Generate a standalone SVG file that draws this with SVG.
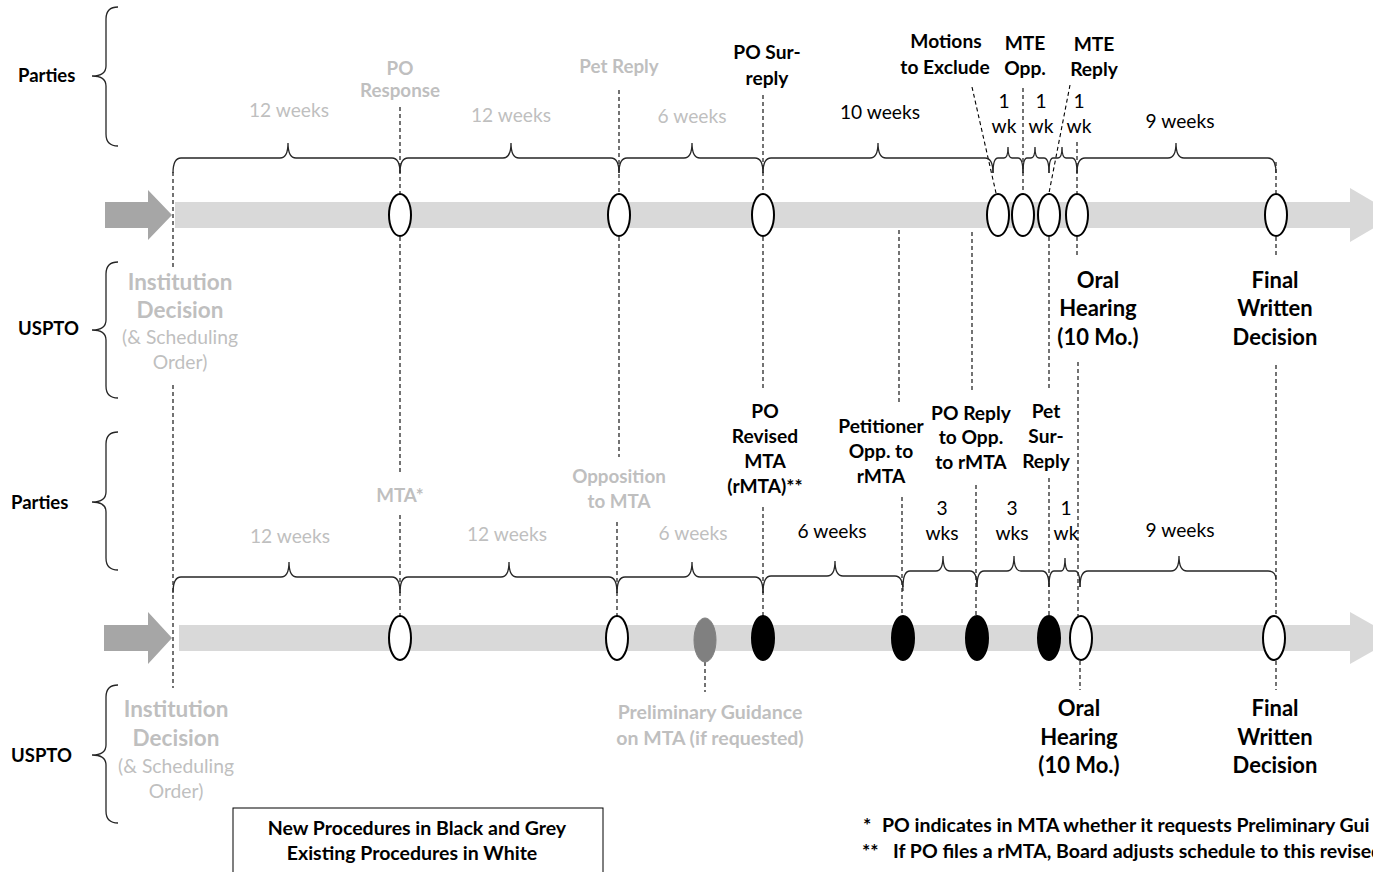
<svg xmlns="http://www.w3.org/2000/svg" width="1373" height="872" viewBox="0 0 1373 872">
<style>
text{font-family:Lato,"Liberation Sans",sans-serif;text-anchor:middle}
.lb{font-weight:bold;font-size:19.2px;fill:#000}
.gb{font-weight:bold;font-size:18.8px;fill:#bfbfbf}
.gr{font-size:19.2px;fill:#bfbfbf}
.bk{font-size:19.2px;fill:#000}
.big{font-weight:bold;font-size:22px;fill:#000}
.gbig{font-weight:bold;font-size:22.5px;fill:#bfbfbf}
.gsub{font-size:19.3px;fill:#bfbfbf}
.side{font-weight:bold;font-size:18.5px;fill:#000;text-anchor:start}
.fn{font-weight:bold;font-size:19.5px;fill:#000;text-anchor:start}
.lg{font-weight:bold;font-size:19.5px;fill:#000}
.pg{font-weight:bold;font-size:19.5px;fill:#bfbfbf}
.brace{fill:none;stroke:#262626;stroke-width:1.3}
.dash{stroke:#000;stroke-width:1.1;stroke-dasharray:4 3;fill:none}
.ow{fill:#fff;stroke:#000;stroke-width:2}
.ob{fill:#000;stroke:#000;stroke-width:2}
.og{fill:#808080;stroke:#808080;stroke-width:1}
.bar{fill:#d9d9d9}
.arr{fill:#a6a6a6}
</style>

<g id="timeline-bars">
  <polygon class="arr" points="105,202 148,202 148,190 172,215 148,240 148,228 105,228"/>
  <rect class="bar" x="175" y="202" width="1176" height="26"/>
  <polygon class="bar" points="1350,188 1396,215 1350,242"/>
  <polygon class="arr" points="104,625 148,625 148,612 172,638 148,664 148,651 104,651"/>
  <rect class="bar" x="179" y="625" width="1172" height="26"/>
  <polygon class="bar" points="1350,612 1396,638 1350,664"/>
</g>

<g id="side-braces">
  <path class="brace" d="M118,7 Q106,7 106,19 L106,66 Q106,76 92,76 Q106,76 106,86 L106,134 Q106,146 118,146"/>
  <path class="brace" d="M118,262 Q106,262 106,274 L106,320 Q106,330 92,330 Q106,330 106,340 L106,386 Q106,398 118,398"/>
  <path class="brace" d="M118,432 Q106,432 106,444 L106,492 Q106,502 92,502 Q106,502 106,512 L106,558 Q106,570 118,570"/>
  <path class="brace" d="M118,685 Q106,685 106,697 L106,745 Q106,755 92,755 Q106,755 106,765 L106,811 Q106,823 118,823"/>
  <text class="side" x="18" y="82">Parties</text>
  <text class="side" x="18" y="335">USPTO</text>
  <text class="side" x="11" y="509">Parties</text>
  <text class="side" x="11" y="762">USPTO</text>
</g>

<g id="connectors">
  <line class="dash" x1="173" y1="172" x2="173" y2="268"/>
  <line class="dash" x1="173" y1="385" x2="173" y2="688"/>
  <line class="dash" x1="400" y1="107" x2="400" y2="193"/>
  <line class="dash" x1="400" y1="237" x2="400" y2="475"/>
  <line class="dash" x1="400" y1="515" x2="400" y2="616"/>
  <line class="dash" x1="619" y1="90" x2="619" y2="193"/>
  <line class="dash" x1="619" y1="237" x2="619" y2="457"/>
  <line class="dash" x1="617" y1="522" x2="617" y2="616"/>
  <line class="dash" x1="763" y1="95" x2="763" y2="193"/>
  <line class="dash" x1="763" y1="237" x2="763" y2="390"/>
  <line class="dash" x1="763" y1="507" x2="763" y2="616"/>
  <line class="dash" x1="972" y1="87" x2="996" y2="193"/>
  <line class="dash" x1="1023" y1="88" x2="1023" y2="193"/>
  <line class="dash" x1="1070" y1="85" x2="1049" y2="193"/>
  <line class="dash" x1="1077" y1="142" x2="1077" y2="193"/>
  <line class="dash" x1="1276" y1="162" x2="1276" y2="193"/>
  <line class="dash" x1="899" y1="230" x2="899" y2="405"/>
  <line class="dash" x1="902" y1="497" x2="902" y2="616"/>
  <line class="dash" x1="972" y1="232" x2="972" y2="390"/>
  <line class="dash" x1="976" y1="485" x2="976" y2="616"/>
  <line class="dash" x1="1049" y1="237" x2="1049" y2="388"/>
  <line class="dash" x1="1049" y1="478" x2="1049" y2="616"/>
  <line class="dash" x1="1077" y1="237" x2="1077" y2="258"/>
  <line class="dash" x1="1078" y1="362" x2="1078" y2="616"/>
  <line class="dash" x1="1276" y1="237" x2="1276" y2="258"/>
  <line class="dash" x1="1276" y1="365" x2="1276" y2="616"/>
  <line class="dash" x1="705" y1="662" x2="705" y2="692"/>
  <line class="dash" x1="1080" y1="661" x2="1080" y2="690"/>
  <line class="dash" x1="1276" y1="661" x2="1276" y2="690"/>

  <path class="brace" d="M173,173 Q173,158 181,158 L280,158 Q288,158 288,143 Q288,158 296,158 L392,158 Q400,158 400,173"/>
  <path class="brace" d="M400,173 Q400,158 408,158 L503,158 Q511,158 511,143 Q511,158 519,158 L611,158 Q619,158 619,173"/>
  <path class="brace" d="M619,173 Q619,158 627,158 L684,158 Q692,158 692,143 Q692,158 700,158 L755,158 Q763,158 763,173"/>
  <path class="brace" d="M763,173 Q763,158 771,158 L870,158 Q878,158 878,143 Q878,158 886,158 L985,158 Q993,158 993,173"/>
  <path class="brace" d="M993,173 Q993,158 998,158 L1004,158 Q1008,158 1008,147 Q1008,158 1012,158 L1018,158 Q1023,158 1023,173"/>
  <path class="brace" d="M1023,173 Q1023,158 1027,158 L1031,158 Q1035,158 1035,147 Q1035,158 1039,158 L1044,158 Q1049,158 1049,173"/>
  <path class="brace" d="M1049,173 Q1049,158 1053,158 L1058,158 Q1062,158 1062,147 Q1062,158 1066,158 L1072,158 Q1077,158 1077,173"/>
  <path class="brace" d="M1077,173 Q1077,158 1085,158 L1168,158 Q1176,158 1176,143 Q1176,158 1184,158 L1268,158 Q1276,158 1276,173"/>

  <path class="brace" d="M173,593 Q173,577 181,577 L281,577 Q289,577 289,562 Q289,577 297,577 L392,577 Q400,577 400,593"/>
  <path class="brace" d="M400,593 Q400,577 408,577 L501,577 Q509,577 509,562 Q509,577 517,577 L609,577 Q617,577 617,593"/>
  <path class="brace" d="M617,593 Q617,577 625,577 L684,577 Q692,577 692,562 Q692,577 700,577 L755,577 Q763,577 763,593"/>
  <path class="brace" d="M763,593 Q763,576 771,576 L827,576 Q835,576 835,561 Q835,576 843,576 L895,576 Q903,576 903,591"/>
  <path class="brace" d="M903,587 Q903,571 910,571 L936,571 Q943,571 943,556 Q943,571 950,571 L970,571 Q977,571 977,587"/>
  <path class="brace" d="M977,587 Q977,571 984,571 L1007,571 Q1014,571 1014,556 Q1014,571 1021,571 L1042,571 Q1049,571 1049,587"/>
  <path class="brace" d="M1049,587 Q1049,571 1054,571 L1061,571 Q1065,571 1065,558 Q1065,571 1069,571 L1075,571 Q1080,571 1080,587"/>
  <path class="brace" d="M1080,587 Q1080,571 1088,571 L1171,571 Q1179,571 1179,556 Q1179,571 1187,571 L1268,571 Q1276,571 1276,580"/>
</g>

<g id="top-duration-labels">
  <text class="gr" x="289" y="117">12 weeks</text>
  <text class="gr" x="511" y="122">12 weeks</text>
  <text class="gr" x="692" y="123">6 weeks</text>
  <text class="bk" x="880" y="119">10 weeks</text>
  <text class="bk" x="1004" y="108">1</text><text class="bk" x="1004" y="133">wk</text>
  <text class="bk" x="1041" y="108">1</text><text class="bk" x="1041" y="133">wk</text>
  <text class="bk" x="1079" y="108">1</text><text class="bk" x="1079" y="133">wk</text>
  <text class="bk" x="1180" y="128">9 weeks</text>
</g>

<g id="top-po-response"><ellipse class="ow" cx="400" cy="215" rx="11" ry="21"/><text class="gb" x="400" y="75">PO</text><text class="gb" x="400" y="97">Response</text></g>
<g id="top-pet-reply"><ellipse class="ow" cx="619" cy="215" rx="11" ry="21"/><text class="gb" x="619" y="73">Pet Reply</text></g>
<g id="top-po-surreply"><ellipse class="ow" cx="763" cy="215" rx="11" ry="21"/><text class="lb" x="767" y="59">PO Sur-</text><text class="lb" x="767" y="85">reply</text></g>
<g id="top-mte"><ellipse class="ow" cx="998" cy="215" rx="11" ry="21"/><text class="lb" x="946" y="48">Motions</text><text class="lb" x="945" y="74">to Exclude</text></g>
<g id="top-mte-opp"><ellipse class="ow" cx="1023" cy="215" rx="11" ry="21"/><text class="lb" x="1025" y="50">MTE</text><text class="lb" x="1025" y="75">Opp.</text></g>
<g id="top-mte-reply"><ellipse class="ow" cx="1049" cy="215" rx="11" ry="21"/><text class="lb" x="1094" y="51">MTE</text><text class="lb" x="1094" y="76">Reply</text></g>
<g id="top-oral-hearing"><ellipse class="ow" cx="1077" cy="215" rx="11" ry="21"/><text class="big" x="1098" y="288">Oral</text><text class="big" x="1098" y="316">Hearing</text><text class="big" x="1098" y="345">(10 Mo.)</text></g>
<g id="top-fwd"><ellipse class="ow" cx="1276" cy="215" rx="11" ry="21"/><text class="big" x="1275" y="288">Final</text><text class="big" x="1275" y="316">Written</text><text class="big" x="1275" y="345">Decision</text></g>
<g id="top-institution"><text class="gbig" x="180" y="290">Institution</text><text class="gbig" x="180" y="318">Decision</text><text class="gsub" x="180" y="344">(&amp; Scheduling</text><text class="gsub" x="180" y="369">Order)</text></g>

<g id="bottom-duration-labels">
  <text class="gr" x="290" y="543">12 weeks</text>
  <text class="gr" x="507" y="541">12 weeks</text>
  <text class="gr" x="693" y="540">6 weeks</text>
  <text class="bk" x="832" y="538">6 weeks</text>
  <text class="bk" x="942" y="515">3</text><text class="bk" x="942" y="540">wks</text>
  <text class="bk" x="1012" y="515">3</text><text class="bk" x="1012" y="540">wks</text>
  <text class="bk" x="1066" y="515">1</text><text class="bk" x="1066" y="540">wk</text>
  <text class="bk" x="1180" y="537">9 weeks</text>
</g>

<g id="bottom-mta"><ellipse class="ow" cx="400" cy="638" rx="11" ry="22"/><text class="gb" x="400" y="502">MTA*</text></g>
<g id="bottom-opposition"><ellipse class="ow" cx="617" cy="638" rx="11" ry="22"/><text class="gb" x="619" y="483">Opposition</text><text class="gb" x="619" y="508">to MTA</text></g>
<g id="bottom-prelim-guidance"><ellipse class="og" cx="705" cy="640" rx="11" ry="22"/><text class="pg" x="710" y="719">Preliminary Guidance</text><text class="pg" x="710" y="745">on MTA (if requested)</text></g>
<g id="bottom-rmta"><ellipse class="ob" cx="763" cy="638" rx="11" ry="22"/><text class="lb" x="765" y="418">PO</text><text class="lb" x="765" y="443">Revised</text><text class="lb" x="765" y="468">MTA</text><text class="lb" x="765" y="493">(rMTA)**</text></g>
<g id="bottom-pet-opp"><ellipse class="ob" cx="903" cy="638" rx="11" ry="22"/><text class="lb" x="881" y="433">Petitioner</text><text class="lb" x="881" y="458">Opp. to</text><text class="lb" x="881" y="483">rMTA</text></g>
<g id="bottom-po-reply"><ellipse class="ob" cx="977" cy="638" rx="11" ry="22"/><text class="lb" x="971" y="420">PO Reply</text><text class="lb" x="971" y="444">to Opp.</text><text class="lb" x="971" y="469">to rMTA</text></g>
<g id="bottom-pet-surreply"><ellipse class="ob" cx="1049" cy="638" rx="11" ry="22"/><text class="lb" x="1046" y="418">Pet</text><text class="lb" x="1046" y="443">Sur-</text><text class="lb" x="1046" y="468">Reply</text></g>
<g id="bottom-oral-hearing"><ellipse class="ow" cx="1081" cy="638" rx="11" ry="22"/><text class="big" x="1079" y="716">Oral</text><text class="big" x="1079" y="745">Hearing</text><text class="big" x="1079" y="773">(10 Mo.)</text></g>
<g id="bottom-fwd"><ellipse class="ow" cx="1274" cy="638" rx="11" ry="22"/><text class="big" x="1275" y="716">Final</text><text class="big" x="1275" y="745">Written</text><text class="big" x="1275" y="773">Decision</text></g>
<g id="bottom-institution"><text class="gbig" x="176" y="717">Institution</text><text class="gbig" x="176" y="746">Decision</text><text class="gsub" x="176" y="773">(&amp; Scheduling</text><text class="gsub" x="176" y="798">Order)</text></g>

<g id="legend">
  <rect x="233" y="808" width="370" height="70" fill="#fff" stroke="#000" stroke-width="1"/>
  <text class="lg" x="417" y="835">New Procedures in Black and Grey</text>
  <text class="lg" x="412" y="860">Existing Procedures in White</text>
</g>

<g id="footnotes">
  <text class="fn" x="863" y="832">*</text><text class="fn" x="882" y="832">PO indicates in MTA whether it requests Preliminary Gui</text>
  <text class="fn" x="862" y="858">**</text><text class="fn" x="893" y="858">If PO files a rMTA, Board adjusts schedule to this revised</text>
</g>
</svg>
